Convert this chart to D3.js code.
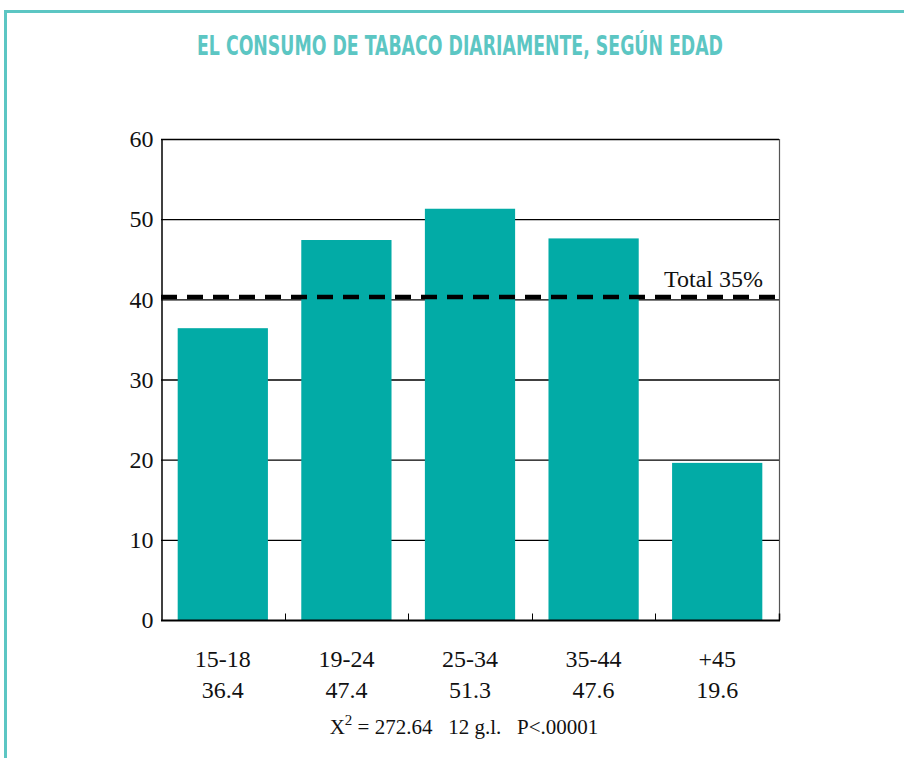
<!DOCTYPE html>
<html lang="es">
<head>
    <meta charset="utf-8">
    <title>El consumo de tabaco diariamente, según edad</title>
    <script src="https://d3js.org/d3.v7.min.js"></script>
    <style>
        body { margin: 0; background: #fff; }
        .serif { font-family: "Liberation Serif", "Times New Roman", serif; fill: #111; }
    </style>
</head>
<body>
<script type="text/javascript">

    // data
    var categories = ["15-18", "19-24", "25-34", "35-44", "+45"];
    var values = [36.4, 47.4, 51.3, 47.6, 19.6];
    var valueLabels = ["36.4", "47.4", "51.3", "47.6", "19.6"];
    var yTicks = [0, 10, 20, 30, 40, 50, 60];
    var totalLine = 40.3;
    var totalLabel = "Total 35%";

    var w = 904, h = 758;
    var teal = "#02aba6";
    var frame = "#5cc6c3";

    var svg = d3.select("body").append("svg")
        .attr("width", w)
        .attr("height", h);

    // frame around the figure (top and left)
    svg.append("path")
        .attr("d", "M5.5," + h + " V11.5 H" + w)
        .attr("fill", "none")
        .attr("stroke", frame)
        .attr("stroke-width", 3);

    svg.append("text")
        .attr("x", 460)
        .attr("y", 55)
        .attr("text-anchor", "middle")
        .attr("textLength", 526)
        .attr("lengthAdjust", "spacingAndGlyphs")
        .style("font-family", "'DejaVu Sans Condensed', 'Liberation Sans Narrow', sans-serif")
        .style("font-weight", "bold")
        .style("font-size", "27px")
        .attr("fill", frame)
        .text("EL CONSUMO DE TABACO DIARIAMENTE, SEGÚN EDAD");

    // plot box
    var pL = 161, pR = 779, pT = 139, pB = 620;

    var x = d3.scaleBand()
        .domain(categories)
        .range([pL, pR])
        .paddingInner(0.27)
        .paddingOuter(0.135);

    var xb = d3.scaleBand().domain(categories).range([pL, pR]);

    var y = d3.scaleLinear()
        .domain([0, 60])
        .range([pB, pT]);

    // gridlines
    svg.append("g").selectAll("line")
        .data(yTicks.filter(function (d) { return d > 0; }))
        .enter().append("line")
        .attr("x1", pL).attr("x2", pR)
        .attr("y1", function (d) { return y(d) + 0.5; })
        .attr("y2", function (d) { return y(d) + 0.5; })
        .attr("stroke", "#000")
        .attr("stroke-width", 1.3);

    // bars
    svg.append("g").selectAll("rect")
        .data(values)
        .enter().append("rect")
        .attr("x", function (d, i) { return x(categories[i]); })
        .attr("width", x.bandwidth())
        .attr("y", function (d) { return y(d); })
        .attr("height", function (d) { return y(0) - y(d); })
        .attr("fill", teal);

    // right side of plot box
    svg.append("line")
        .attr("x1", pR + 0.5).attr("x2", pR + 0.5)
        .attr("y1", pT).attr("y2", pB)
        .attr("stroke", "#555").attr("stroke-width", 1.2);

    var yAxis = d3.axisLeft(y).tickValues(yTicks).tickSize(0).tickPadding(8);
    var gy = svg.append("g")
        .attr("transform", "translate(" + (pL + 0.5) + ",0)")
        .call(yAxis);
    gy.select(".domain").attr("stroke", "#000").attr("stroke-width", 1.5);
    gy.selectAll("text")
        .attr("class", "serif")
        .style("font-size", "24px")
        .attr("fill", "#111");

    var gx = svg.append("g")
        .attr("transform", "translate(0," + (pB + 0.5) + ")");
    gx.append("line")
        .attr("x1", pL).attr("x2", pR + 1)
        .attr("stroke", "#000").attr("stroke-width", 2);
    gx.selectAll(".tk")
        .data(categories.slice(1))
        .enter().append("line")
        .attr("class", "tk")
        .attr("x1", function (d) { return Math.round(xb(d)) + 0.5; })
        .attr("x2", function (d) { return Math.round(xb(d)) + 0.5; })
        .attr("y1", 0).attr("y2", -7)
        .attr("stroke", "#000").attr("stroke-width", 1);
    gx.append("line")
        .attr("x1", pR + 0.5).attr("x2", pR + 0.5)
        .attr("y1", 0).attr("y2", -7)
        .attr("stroke", "#000").attr("stroke-width", 1.5);

    // category labels and values
    svg.append("g").selectAll("text")
        .data(categories)
        .enter().append("text")
        .attr("class", "serif")
        .attr("x", function (d) { return xb(d) + xb.bandwidth() / 2; })
        .attr("y", 667)
        .attr("text-anchor", "middle")
        .style("font-size", "24px")
        .text(function (d) { return d; });

    svg.append("g").selectAll("text")
        .data(valueLabels)
        .enter().append("text")
        .attr("class", "serif")
        .attr("x", function (d, i) { return xb(categories[i]) + xb.bandwidth() / 2; })
        .attr("y", 698)
        .attr("text-anchor", "middle")
        .style("font-size", "24px")
        .text(function (d) { return d; });

    // total dashed line
    svg.append("line")
        .attr("x1", pL).attr("x2", pR + 1)
        .attr("y1", y(totalLine)).attr("y2", y(totalLine))
        .attr("stroke", "#000")
        .attr("stroke-width", 4.5)
        .attr("stroke-dasharray", "16,10");

    svg.append("text")
        .attr("class", "serif")
        .attr("x", 763)
        .attr("y", 287)
        .attr("text-anchor", "end")
        .style("font-size", "24px")
        .text(totalLabel);

    // statistic line
    var stat = svg.append("text")
        .attr("class", "serif")
        .attr("x", 464)
        .attr("y", 734)
        .attr("text-anchor", "middle")
        .style("font-size", "21px")
        .attr("xml:space", "preserve");
    stat.append("tspan").text("X");
    stat.append("tspan").attr("dy", -9).style("font-size", "15px").text("2");
    stat.append("tspan").attr("dy", 9).text(" = 272.64   12 g.l.   P<.00001");

</script>
</body>
</html>
